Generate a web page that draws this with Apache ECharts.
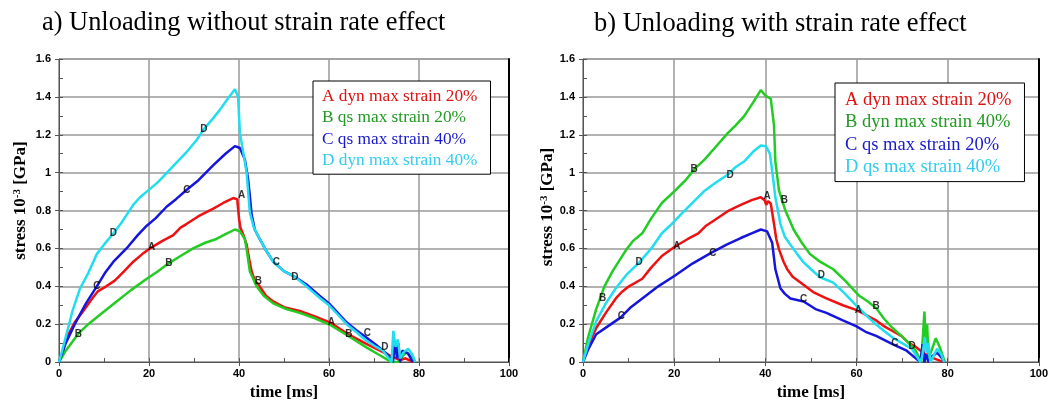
<!DOCTYPE html>
<html><head><meta charset="utf-8">
<script src="https://cdn.jsdelivr.net/npm/echarts@6/dist/echarts.min.js"></script>
<style>html,body{margin:0;padding:0;background:#fff}#c{width:1051px;height:406px}</style>
</head><body><div id="c"></div>
<script>
// ---------- data ----------
const titles = ['a) Unloading without strain rate effect', 'b) Unloading with strain rate effect'];
const xTickValues = [0, 20, 40, 60, 80, 100];
const yTickValues = [0, 0.2, 0.4, 0.6, 0.8, 1, 1.2, 1.4, 1.6];
const leftNames = ['A dyn max strain 20%', 'B qs max strain 20%', 'C qs max strain 40%', 'D dyn max strain 40%'];
const rightNames = ['A dyn max strain 20%', 'B dyn max strain 40%', 'C qs max strain 20%', 'D qs max strain 40%'];

// left chart: without strain rate effect  [time ms, stress]
const leftA = [[0,0],[0.8,0.05],[1.7,0.13],[3.5,0.21],[5.4,0.27],[7.5,0.34],[8.7,0.375],[10.5,0.4],[12.4,0.43],[14.5,0.48],[16.5,0.53],[18.5,0.57],[20.2,0.6],[23,0.64],[25.4,0.67],[27,0.71],[28.4,0.73],[31,0.77],[34.3,0.81],[36.5,0.84],[38.7,0.866],[39.6,0.86],[40,0.76],[40.3,0.71],[41,0.67],[41.7,0.62],[42.3,0.54],[42.8,0.48],[43.5,0.43],[44.3,0.41],[46,0.35],[47.6,0.32],[50,0.29],[53.5,0.27],[57,0.24],[60.2,0.21],[64.2,0.148],[68.3,0.096],[72.8,0.044],[75.7,0.01],[77,0.02],[78.7,0]];
const leftB = [[0,0],[1.5,0.06],[4.3,0.15],[6.5,0.2],[9.1,0.25],[12.8,0.32],[16,0.38],[19.5,0.44],[22,0.48],[24.3,0.52],[27,0.56],[29.8,0.6],[32.5,0.63],[35,0.65],[37,0.675],[39.1,0.7],[40.2,0.69],[41.3,0.65],[41.8,0.58],[42.4,0.48],[43.9,0.4],[45.5,0.35],[47.6,0.31],[50.5,0.28],[53.5,0.26],[57,0.23],[60.2,0.197],[64.2,0.139],[68.3,0.078],[71,0.04],[73.9,0],[75.5,0],[76.3,0.03],[77.2,0.052],[78.2,0.03],[79,0]];
const leftC = [[0,0],[1.5,0.1],[3.5,0.2],[6,0.31],[8.4,0.4],[10.2,0.47],[12.1,0.53],[15,0.6],[17.5,0.67],[19.5,0.72],[21.5,0.76],[23.9,0.82],[26,0.86],[28.4,0.91],[31,0.96],[34.3,1.04],[37,1.1],[39.1,1.14],[40.2,1.13],[41.3,1.07],[42,0.97],[42.4,0.88],[42.8,0.78],[43.5,0.7],[44.6,0.65],[46,0.59],[47.6,0.53],[50,0.48],[52.4,0.45],[55,0.41],[57.9,0.35],[60,0.31],[63.9,0.21],[66,0.17],[68.3,0.13],[70.5,0.09],[72.8,0.044],[74.2,0],[74.7,0.11],[75.1,0.02],[75.4,0.1],[75.8,0],[76.3,0.06],[77.6,0.045],[78.6,0]];
const leftD = [[0,0],[0.7,0.06],[1.7,0.15],[3,0.27],[4.7,0.39],[6.5,0.47],[8.4,0.57],[10,0.62],[12.1,0.68],[14,0.74],[16.5,0.83],[18,0.87],[19.5,0.9],[22,0.95],[24,1.0],[26,1.05],[28.4,1.11],[30.5,1.17],[32.2,1.23],[34,1.28],[35.7,1.33],[37.5,1.39],[39.1,1.44],[39.8,1.4],[40.2,1.21],[41,1.1],[41.7,1.0],[42.1,0.88],[42.4,0.79],[43.3,0.71],[44.6,0.65],[46,0.59],[47.6,0.53],[50,0.48],[52.4,0.45],[55,0.4],[57.9,0.34],[60,0.3],[62,0.25],[63.9,0.2],[66,0.16],[68.3,0.113],[70.5,0.08],[72,0.06],[73.9,0],[74.3,0.165],[74.8,0.08],[75.3,0.12],[75.8,0.02],[76.5,0.05],[77.6,0.07],[78.5,0.04],[79.2,0]];
const leftLetters = [[4.3,0.148,'B'],[24.4,0.52,'B'],[44.3,0.427,'B'],[64.4,0.148,'B'],[8.4,0.4,'C'],[28.4,0.906,'C'],[48.3,0.526,'C'],[68.5,0.152,'C'],[20.6,0.605,'A'],[40.6,0.88,'A'],[60.5,0.209,'A'],[12.1,0.68,'D'],[32.2,1.23,'D'],[52.4,0.45,'D'],[72.4,0.078,'D']];

// right chart: with strain rate effect
const rightA = [[0,0],[1.2,0.09],[2.9,0.18],[5,0.26],[7.2,0.336],[8.5,0.37],[10.1,0.4],[13,0.44],[15,0.5],[17.3,0.56],[20.2,0.61],[23,0.65],[25.3,0.68],[27,0.72],[28.9,0.75],[32,0.8],[34.6,0.83],[37,0.855],[39,0.87],[39.9,0.853],[40.2,0.83],[40.6,0.85],[41.2,0.836],[41.9,0.73],[42.4,0.65],[43,0.595],[44,0.53],[44.8,0.49],[46,0.45],[47.7,0.42],[50.5,0.37],[53.4,0.336],[57,0.3],[59.9,0.276],[62,0.25],[64.3,0.22],[66,0.19],[67.9,0.164],[70,0.135],[71.5,0.1],[73,0.08],[75,0.043],[77,0.02],[79.1,0]];
const rightB = [[0,0],[1.1,0.13],[2.9,0.28],[4.7,0.4],[6.5,0.48],[9.4,0.59],[11,0.64],[13,0.68],[15,0.76],[17.3,0.84],[20.2,0.905],[22.5,0.96],[24.5,1.02],[26.7,1.07],[28.9,1.13],[31.8,1.21],[33.5,1.25],[35.4,1.3],[37.3,1.37],[39,1.436],[40.1,1.405],[41.2,1.39],[41.9,1.25],[42.2,1.06],[43,0.905],[44.4,0.8],[46.2,0.7],[48,0.63],[49.8,0.57],[52,0.53],[54.9,0.49],[57.5,0.43],[60.6,0.35],[62.5,0.32],[64.3,0.285],[66,0.23],[67.9,0.18],[70,0.135],[71.5,0.1],[73,0.06],[74.2,0],[74.6,0.15],[74.9,0.267],[75.2,0.1],[75.5,0.2],[75.8,0.02],[76.3,0.05],[77.4,0.126],[78.4,0.07],[79.4,0]];
const rightC = [[0,0],[1.2,0.07],[2.9,0.147],[5.5,0.19],[8.3,0.236],[10.5,0.29],[13,0.336],[16.5,0.4],[20.2,0.457],[24,0.52],[28.2,0.578],[31.5,0.62],[34.6,0.655],[37,0.68],[39,0.7],[40.4,0.69],[41.5,0.63],[42.2,0.49],[43.3,0.39],[44.3,0.36],[45.5,0.336],[48.4,0.32],[51,0.28],[53.4,0.26],[57,0.22],[59.9,0.19],[62,0.16],[64.3,0.138],[67.9,0.095],[71,0.06],[74,0],[74.5,0.095],[74.9,0],[75.3,0.04],[75.8,0],[76.5,0.03],[77.7,0.05],[78.8,0.02],[79.2,0]];
const rightD = [[0,0],[1.2,0.1],[2.9,0.215],[5,0.31],[7.2,0.39],[9.5,0.46],[12.3,0.525],[15,0.6],[17.3,0.68],[19.5,0.73],[21.7,0.785],[24,0.84],[26.7,0.905],[29,0.945],[31.8,0.99],[33.5,1.03],[35.4,1.06],[37.3,1.11],[39,1.143],[40.1,1.14],[41,1.1],[41.5,1.01],[42.2,0.87],[43.3,0.73],[44.3,0.66],[45.5,0.62],[47,0.57],[48.4,0.526],[50,0.49],[52,0.448],[54.9,0.42],[57.5,0.36],[59.9,0.3],[62,0.25],[64.3,0.198],[66,0.165],[67.9,0.13],[70,0.1],[72.2,0.069],[74,0],[74.4,0.03],[75,0.13],[75.4,0.05],[75.8,0.1],[76.2,0],[77.7,0.07],[78.6,0.04],[79.2,0]];
const rightLetters = [[4.3,0.336,'B'],[24.4,1.017,'B'],[44.2,0.857,'B'],[64.3,0.293,'B'],[12.3,0.526,'D'],[32.3,0.988,'D'],[52.3,0.457,'D'],[72.2,0.083,'D'],[20.6,0.609,'A'],[40.4,0.878,'A'],[60.4,0.276,'A'],[8.4,0.24,'C'],[28.5,0.574,'C'],[48.4,0.333,'C'],[68.4,0.098,'C']];

// ---------- styling ----------
const lineColors = ['#ee1111', '#22cc22', '#1515dd', '#22ddee'];
const legendColors = ['#dd1111', '#229922', '#1a1acc', '#33ccee'];
const serif = 'Liberation Serif';
const sans = 'Liberation Sans';

const grids = [
  {left: 59, top: 59, width: 450, height: 306},
  {left: 583, top: 59, width: 462, height: 309.3}
];

function mainX(g, gap) {
  return {
    gridIndex: g, type: 'value', min: 0, max: 100, interval: 20,
    axisLine: {show: true, lineStyle: {color: '#555', width: 1}},
    axisTick: {show: true, length: 4, lineStyle: {color: '#555'}},
    axisLabel: {margin: 6, color: '#000', fontFamily: sans, fontWeight: 'bold', fontSize: 11},
    splitLine: {show: true, lineStyle: {color: '#999', width: 1.5}},
    name: 'time [ms]', nameLocation: 'middle', nameGap: gap,
    nameTextStyle: {fontFamily: serif, fontWeight: 'bold', fontSize: 17, color: '#000', verticalAlign: 'top'}
  };
}
function minorX(g) {
  return {
    gridIndex: g, type: 'value', min: 0, max: 100, interval: 10, position: 'bottom',
    axisLine: {show: false}, axisLabel: {show: false}, splitLine: {show: false},
    axisTick: {show: true, inside: true, length: 4, lineStyle: {color: '#555'}}
  };
}
function mainY(g, gap, pad) {
  return {
    gridIndex: g, type: 'value', min: 0, max: 1.6, interval: 0.2,
    axisLine: {show: true, lineStyle: {color: '#555', width: 1}},
    axisTick: {show: true, length: 4, lineStyle: {color: '#555'}},
    axisLabel: {margin: 8, color: '#000', fontFamily: sans, fontWeight: 'bold', fontSize: 11},
    splitLine: {show: true, lineStyle: {color: '#999', width: 1.5}},
    name: 'stress 10{sup|-3} [GPa]', nameLocation: 'middle', nameGap: gap, nameRotate: 90,
    nameTextStyle: {fontFamily: serif, fontWeight: 'bold', fontSize: 17, color: '#000', padding: [0, 0, 0, pad],
      rich: {sup: {fontFamily: serif, fontWeight: 'bold', fontSize: 11, color: '#000', verticalAlign: 'top', lineHeight: 17}}}
  };
}
function minorY(g) {
  return {
    gridIndex: g, type: 'value', min: 0, max: 1.6, interval: 0.1, position: 'left',
    axisLine: {show: false}, axisLabel: {show: false}, splitLine: {show: false},
    axisTick: {show: true, inside: true, length: 4, lineStyle: {color: '#555'}}
  };
}
function borderY(g) {
  return {
    gridIndex: g, type: 'value', min: 0, max: 1.6, interval: 0.2, position: 'right',
    axisLine: {show: true, lineStyle: {color: '#000', width: 2}},
    axisTick: {show: false}, axisLabel: {show: false}, splitLine: {show: false}
  };
}

const series = [];
function addChart(datasets, names, letters, xi, yi) {
  datasets.forEach((d, i) => {
    series.push({
      type: 'line', name: names[i], xAxisIndex: xi, yAxisIndex: yi, data: d,
      showSymbol: false, symbol: 'none', smooth: false, z: 3,
      lineStyle: {color: lineColors[i], width: 2.5}, itemStyle: {color: lineColors[i]}
    });
  });
  series.push({
    type: 'scatter', xAxisIndex: xi, yAxisIndex: yi, z: 6, symbolSize: 1,
    itemStyle: {color: 'rgba(0,0,0,0)'},
    data: letters.map(l => [l[0], l[1], l[2]]),
    label: {show: true, position: 'inside', formatter: p => p.value[2], color: '#000',
      fontFamily: sans, fontWeight: 'bold', fontSize: 10}
  });
}
addChart([leftA, leftB, leftC, leftD], leftNames, leftLetters, 0, 0);
addChart([rightA, rightB, rightC, rightD], rightNames, rightLetters, 2, 3);

function legend(names, left, top, fs, lh, pad) {
  return {
    left: left, top: top, orient: 'vertical', icon: 'rect', itemWidth: 0, itemHeight: 0, itemGap: 0,
    padding: pad, backgroundColor: '#fff', borderColor: '#000', borderWidth: 1, selectedMode: false,
    textStyle: {fontFamily: serif, fontSize: fs, lineHeight: lh},
    data: names.map((n, i) => ({name: n, textStyle: {color: legendColors[i], fontFamily: serif, fontSize: fs, lineHeight: lh}}))
  };
}

const option = {
  animation: false,
  backgroundColor: '#fff',
  title: [
    {text: titles[0], left: 42, top: 10, padding: 0, textStyle: {fontFamily: serif, fontSize: 26.4, fontWeight: 'normal', color: '#000'}},
    {text: titles[1], left: 594, top: 11, padding: 0, textStyle: {fontFamily: serif, fontSize: 26.5, fontWeight: 'normal', color: '#000'}}
  ],
  legend: [
    legend(leftNames, 313, 81, 17.3, 21.3, [5, 13, 3, 4]),
    legend(rightNames, 835, 83, 18.5, 22.4, [6, 13, 3, 5])
  ],
  grid: grids.map(g => Object.assign({show: true, borderColor: '#888', borderWidth: 1, backgroundColor: '#fff'}, g)),
  xAxis: [mainX(0, 19), minorX(0), mainX(1, 21), minorX(1)],
  yAxis: [mainY(0, 30, 20), minorY(0), borderY(0), mainY(1, 25, 7), minorY(1), borderY(1)],
  series: series
};
const chart = echarts.init(document.getElementById('c'), null, {renderer: 'canvas'});
chart.setOption(option);
</script></body></html>
